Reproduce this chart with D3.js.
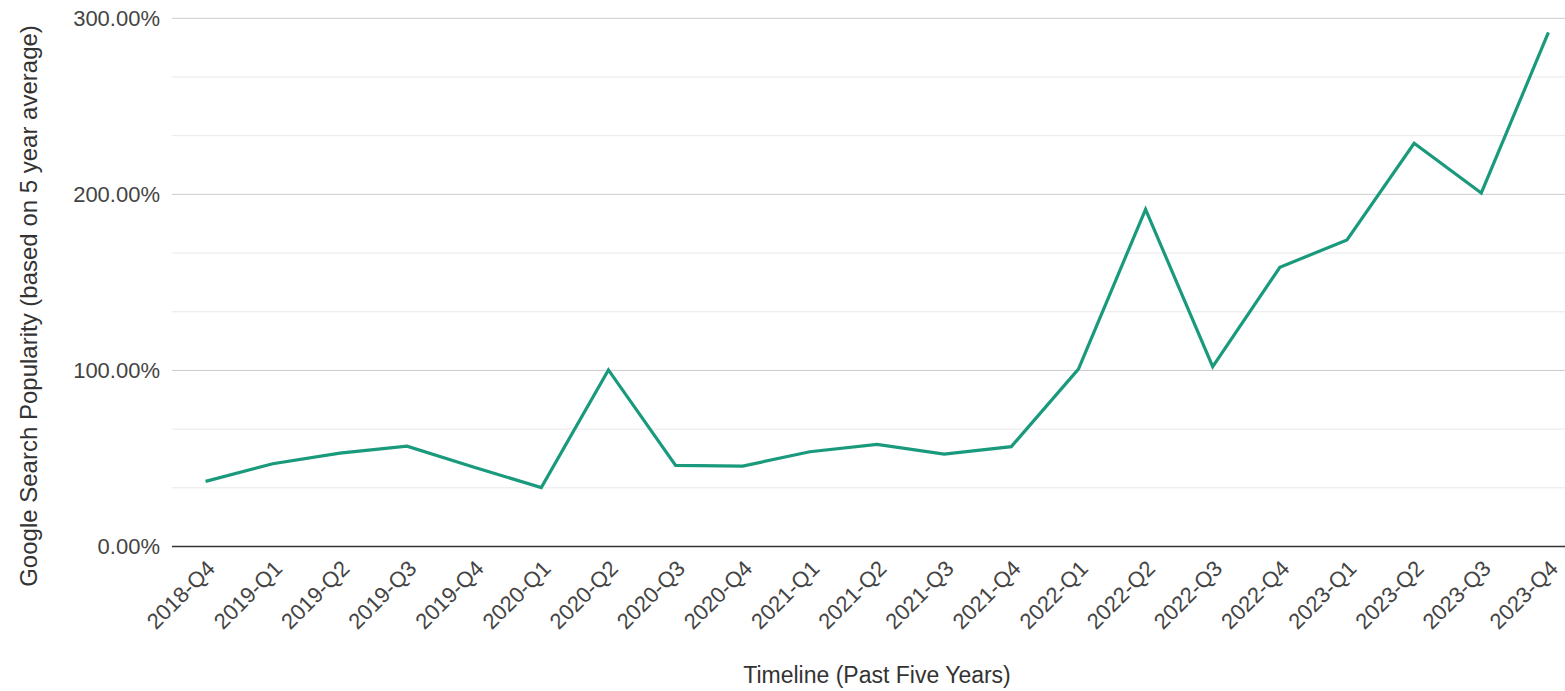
<!DOCTYPE html>
<html>
<head>
<meta charset="utf-8">
<script src="https://cdn.jsdelivr.net/npm/d3@7"></script>
<style>
    body { margin: 0; background: #fff; }
    text { font-family: "Liberation Sans", Arial, sans-serif; }
</style>
</head>
<body>
<svg id="chart" width="1565" height="691"></svg>
<script>
"use strict";

//// data
const quarters = ["2018-Q4", "2019-Q1", "2019-Q2", "2019-Q3", "2019-Q4",
    "2020-Q1", "2020-Q2", "2020-Q3", "2020-Q4",
    "2021-Q1", "2021-Q2", "2021-Q3", "2021-Q4",
    "2022-Q1", "2022-Q2", "2022-Q3", "2022-Q4",
    "2023-Q1", "2023-Q2", "2023-Q3", "2023-Q4"];
const popularity = [37.0, 47.0, 53.0, 57.0, 45.0,
    33.5, 100.3, 46.1, 45.7,
    53.8, 58.0, 52.5, 56.7,
    100.8, 191.5, 102.1, 158.6,
    174.1, 229.0, 200.8, 292.0];
const yMajorTicks = [0, 100, 200, 300];
const yMinorTicks = [33.33, 66.67, 133.33, 166.67, 233.33, 266.67];

(function () {
    const svg = d3.select("#chart");
    const plotLeft = 172, plotRight = 1582, plotTop = 18.3, plotBottom = 546.5;

    const x = d3.scalePoint()
        .domain(quarters)
        .range([plotLeft, plotRight])
        .padding(0.5);

    const y = d3.scaleLinear()
        .domain([0, 300])
        .range([plotBottom, plotTop]);

    //// gridlines
    svg.append("g")
        .selectAll("line")
        .data(yMinorTicks)
        .enter().append("line")
            .attr("x1", plotLeft).attr("x2", plotRight)
            .attr("y1", d => y(d)).attr("y2", d => y(d))
            .attr("stroke", "#e8e8e8")
            .attr("stroke-width", 1);

    svg.append("g")
        .selectAll("line")
        .data(yMajorTicks.filter(d => d > 0))
        .enter().append("line")
            .attr("x1", plotLeft).attr("x2", plotRight)
            .attr("y1", d => y(d)).attr("y2", d => y(d))
            .attr("stroke", "#cccccc")
            .attr("stroke-width", 1);

    //// y axis labels
    const yAxis = svg.append("g")
        .attr("transform", "translate(" + (plotLeft - 12) + ",0)")
        .call(d3.axisLeft(y)
            .tickValues(yMajorTicks)
            .tickSize(0)
            .tickFormat(d => d3.format(".2f")(d) + "%"));
    yAxis.select(".domain").remove();
    yAxis.selectAll("text")
        .attr("x", 0)
        .attr("fill", "#444")
        .style("font-size", "22px")
        .style("font-family", "'Liberation Sans', Arial, sans-serif");

    //// line
    const line = d3.line()
        .x((d, i) => x(quarters[i]))
        .y(d => y(d));

    svg.append("path")
        .datum(popularity)
        .attr("fill", "none")
        .attr("stroke", "#1a9a7c")
        .attr("stroke-width", 3.2)
        .attr("stroke-linejoin", "miter")
        .attr("d", line);

    //// x axis
    const xAxis = svg.append("g")
        .attr("transform", "translate(0," + plotBottom + ")")
        .call(d3.axisBottom(x).tickSize(0));
    xAxis.select(".domain")
        .attr("stroke", "#333")
        .attr("stroke-width", 1.5)
        .attr("d", "M" + plotLeft + ",0H" + plotRight);
    xAxis.selectAll("text")
        .attr("x", 0).attr("y", 0).attr("dy", "0.35em")
        .attr("text-anchor", "end")
        .attr("transform", "translate(5,18) rotate(-45)")
        .attr("fill", "#444")
        .style("font-size", "22px")
        .style("font-family", "'Liberation Sans', Arial, sans-serif");

    //// axis titles
    svg.append("text")
        .attr("x", (plotLeft + plotRight) / 2)
        .attr("y", 683)
        .attr("text-anchor", "middle")
        .attr("fill", "#333")
        .style("font-size", "23px")
        .text("Timeline (Past Five Years)");

    svg.append("text")
        .attr("transform", "translate(37," + 306 + ") rotate(-90)")
        .attr("text-anchor", "middle")
        .attr("fill", "#333")
        .style("font-size", "24px")
        .text("Google Search Popularity (based on 5 year average)");
})();
</script>
</body>
</html>
